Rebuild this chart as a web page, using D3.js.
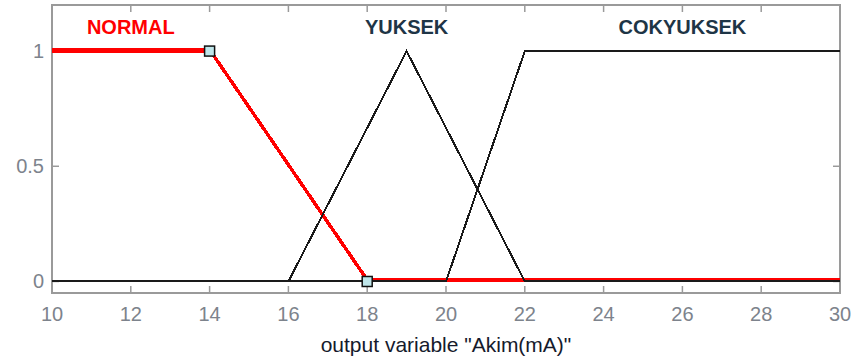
<!DOCTYPE html>
<html>
<head>
<meta charset="utf-8">
<script src="https://cdn.jsdelivr.net/npm/d3@7"></script>
<style>
  body { margin: 0; background: #fff; }
  text { font-family: "Liberation Sans", Arial, sans-serif; }
</style>
</head>
<body>
<svg id="chart" width="854" height="360"></svg>
<script>
// -------- DATA --------
const mfNames = ["NORMAL", "YUKSEK", "COKYUKSEK"];
const mfTypes = ["trapmf", "trimf", "trapmf"];
const mfParams = [[10, 10, 14, 18], [16, 19, 22], [20, 22, 30, 30]];
const labelX = [12, 19, 26];
const selectedMf = 0;
const xTicks = [10, 12, 14, 16, 18, 20, 22, 24, 26, 28, 30];
const yTicks = [0, 0.5, 1];
const xDomain = [10, 30];
const yDomain = [-0.05, 1.2];
const xLabel = "output variable \"Akim(mA)\"";

// -------- LAYOUT --------
const W = 854, H = 360;
const margin = { left: 52, right: 14, top: 5, bottom: 67 };
const iw = W - margin.left - margin.right;
const ih = H - margin.top - margin.bottom;

const svg = d3.select("#chart");
const g = svg.append("g").attr("transform", `translate(${margin.left},${margin.top})`);

const x = d3.scaleLinear().domain(xDomain).range([0, iw]);
const y = d3.scaleLinear().domain(yDomain).range([ih, 0]);

// membership function shapes (breakpoints only)
function mfPoints(type, p) {
  const [lo, hi] = xDomain;
  if (type === "trimf") {
    return [[lo, 0], [p[0], 0], [p[1], 1], [p[2], 0], [hi, 0]];
  }
  return [[lo, p[0] === lo ? 1 : 0], [p[0], p[0] === lo ? 1 : 0], [p[1], 1], [p[2], 1],
          [p[3], p[3] === hi ? 1 : 0], [hi, p[3] === hi ? 1 : 0]];
}

const line = d3.line().x(d => x(d[0])).y(d => y(d[1]));

// -------- BOX + TICKS --------
const grey = "#9a9a9a";
g.append("rect")
  .attr("x", 0).attr("y", 0).attr("width", iw).attr("height", ih)
  .attr("fill", "none").attr("stroke", grey).attr("stroke-width", 2);

const tickLen = 7;
xTicks.slice(1, -1).forEach(t => {
  g.append("line").attr("x1", x(t)).attr("x2", x(t)).attr("y1", ih).attr("y2", ih - tickLen)
    .attr("stroke", grey).attr("stroke-width", 1.5);
  g.append("line").attr("x1", x(t)).attr("x2", x(t)).attr("y1", 0).attr("y2", tickLen)
    .attr("stroke", grey).attr("stroke-width", 1.5);
});
yTicks.forEach(t => {
  g.append("line").attr("x1", 0).attr("x2", tickLen).attr("y1", y(t)).attr("y2", y(t))
    .attr("stroke", grey).attr("stroke-width", 1.5);
  g.append("line").attr("x1", iw).attr("x2", iw - tickLen).attr("y1", y(t)).attr("y2", y(t))
    .attr("stroke", grey).attr("stroke-width", 1.5);
});

// tick labels
const tickColor = "#7d838c";
g.selectAll(".xt").data(xTicks).enter().append("text")
  .attr("x", d => x(d)).attr("y", ih + 28)
  .attr("text-anchor", "middle").attr("font-size", 20).attr("fill", tickColor)
  .text(d => d);

g.selectAll(".yt").data(yTicks).enter().append("text")
  .attr("x", -8).attr("y", d => y(d) + 7)
  .attr("text-anchor", "end").attr("font-size", 20).attr("fill", tickColor)
  .text(d => d);

g.append("text")
  .attr("x", iw / 2).attr("y", ih + 59)
  .attr("text-anchor", "middle").attr("font-size", 21).attr("fill", "#151a2c")
  .text(xLabel);

// -------- MEMBERSHIP FUNCTIONS --------
// selected one in red first, others black on top
g.append("path")
  .attr("d", line(mfPoints(mfTypes[selectedMf], mfParams[selectedMf])))
  .attr("fill", "none").attr("stroke", "#ff0000").attr("stroke-width", 3.5)
  .attr("transform", "translate(0,-1.5)")
  .attr("shape-rendering", "crispEdges");

mfNames.forEach((name, i) => {
  if (i === selectedMf) return;
  g.append("path")
    .attr("d", line(mfPoints(mfTypes[i], mfParams[i])))
    .attr("fill", "none").attr("stroke", "#1a1a1a").attr("stroke-width", 2)
    .attr("shape-rendering", "crispEdges");
});

// redraw the red plateau unshifted so it reads at y = 1
g.append("path")
  .attr("d", line(mfPoints(mfTypes[selectedMf], mfParams[selectedMf]).slice(0, 4)))
  .attr("fill", "none").attr("stroke", "#ff0000").attr("stroke-width", 3.5)
  .attr("shape-rendering", "crispEdges");

// handles on the selected MF
const handles = [[mfParams[selectedMf][2], 1], [mfParams[selectedMf][3], 0]];
g.selectAll(".handle").data(handles).enter().append("rect")
  .attr("x", d => x(d[0]) - 5).attr("y", d => y(d[1]) - 5)
  .attr("width", 10).attr("height", 10)
  .attr("fill", "#bfe6ea").attr("stroke", "#111").attr("stroke-width", 1.5);

// MF names
g.selectAll(".mfname").data(mfNames).enter().append("text")
  .attr("x", (d, i) => x(labelX[i])).attr("y", 29)
  .attr("text-anchor", "middle").attr("font-size", 20).attr("font-weight", "bold")
  .attr("fill", (d, i) => i === selectedMf ? "#ff0000" : "#1e3546")
  .text(d => d);
</script>
</body>
</html>
